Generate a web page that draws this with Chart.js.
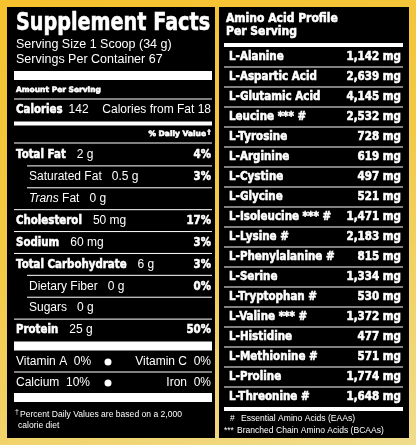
<!DOCTYPE html>
<html>
<head>
<meta charset="utf-8">
<script src="https://cdn.jsdelivr.net/npm/chart.js@4"></script>
<style>
  html, body { margin: 0; padding: 0; }
  body {
    width: 416px; height: 445px; overflow: hidden; position: relative;
    background: linear-gradient(160deg, #f6c12c 0%, #f3c845 45%, #f0dc8c 100%);
  }
  canvas { position: absolute; left: 0; top: 0; }
</style>
</head>
<body>
<div style="position:absolute;left:0;top:0;width:416px;height:445px"><canvas id="factsChart"></canvas></div>
<div style="position:absolute;left:0;top:0;width:416px;height:445px"><canvas id="aminoChart"></canvas></div>
<script>
// Nutrient rows (left panel)
const nutrients = ['Total Fat', 'Saturated Fat', 'Trans Fat', 'Cholesterol', 'Sodium',
                   'Total Carbohydrate', 'Dietary Fiber', 'Sugars', 'Protein'];
const amounts = ['2 g', '0.5 g', '0 g', '50 mg', '60 mg', '6 g', '0 g', '0 g', '25 g'];
const dailyValue = [4, 3, null, 17, 3, 3, 0, null, 50];
const indented = [false, true, true, false, false, false, true, true, false];

// Amino acid rows (right panel)
const aminoAcids = ['L-Alanine', 'L-Aspartic Acid', 'L-Glutamic Acid', 'Leucine *** #', 'L-Tyrosine',
  'L-Arginine', 'L-Cystine', 'L-Glycine', 'L-Isoleucine *** #', 'L-Lysine #', 'L-Phenylalanine #',
  'L-Serine', 'L-Tryptophan #', 'L-Valine *** #', 'L-Histidine', 'L-Methionine #', 'L-Proline', 'L-Threonine #'];
const aminoMg = [1142, 2639, 4145, 2532, 728, 619, 497, 521, 1471, 2183, 815, 1334, 530, 1372, 477, 571, 1774, 1648];

const BOLD = 'DejaVu Sans';
const REG = '"Liberation Sans", Arial, sans-serif';

// draws text, optionally squeezed horizontally by sx; bold text gets a thin stroke
function txt(ctx, s, x, y, font, align, sx) {
    sx = sx || 1;
    ctx.font = font;
    ctx.textAlign = align || 'left';
    ctx.textBaseline = 'middle';
    ctx.save();
    ctx.translate(x, y);
    ctx.scale(sx, 1);
    ctx.fillText(s, 0, 0);
    if (font.startsWith('bold')) {
        ctx.strokeStyle = '#fff';
        ctx.lineWidth = 0.6;
        ctx.strokeText(s, 0, 0);
    }
    ctx.restore();
    return ctx.measureText(s).width * sx;
}
function hline(ctx, x1, x2, y, w) {
    ctx.fillRect(x1, y - w / 2, x2 - x1, w);
}

const hiddenScales = {
    x: { display: false, min: 0 },
    y: { display: false }
};

const B = 'bold 12.5px ' + BOLD, BS = 0.82;
const R = '12px ' + REG;

const factsPlugin = {
    id: 'facts',
    beforeDraw(chart) {
        const ctx = chart.ctx;
        ctx.save();
        ctx.fillStyle = '#000';
        ctx.fillRect(7, 7, 208, 431);
        ctx.fillStyle = '#fff';
        txt(ctx, 'Supplement Facts', 16, 24, 'bold 24px ' + BOLD, 'left', 0.8);
        txt(ctx, 'Serving Size 1 Scoop (34 g)', 16, 45, '12.5px ' + REG);
        txt(ctx, 'Servings Per Container 67', 16, 60, '12.5px ' + REG);
        hline(ctx, 14, 212, 75.5, 9);
        txt(ctx, 'Amount Per Serving', 16, 90, 'bold 7.5px ' + BOLD);
        hline(ctx, 14, 212, 99, 1);
        let w = txt(ctx, 'Calories', 16, 110, B, 'left', BS);
        txt(ctx, '142', 16 + w + 6, 110, R);
        txt(ctx, 'Calories from Fat 18', 211, 110, R, 'right');
        hline(ctx, 14, 212, 123.5, 4);
        txt(ctx, '% Daily Value', 206, 134, 'bold 7.5px ' + BOLD, 'right');
        txt(ctx, '†', 209, 132, 'bold 6px ' + BOLD, 'center');
        hline(ctx, 14, 212, 143, 1);

        const y = chart.scales.y;
        const step = y.getPixelForValue(1) - y.getPixelForValue(0);
        nutrients.forEach((name, i) => {
            const cy = y.getPixelForValue(i);
            if (indented[i]) {
                let x = 29;
                if (name === 'Trans Fat') {
                    x += txt(ctx, 'Trans', x, cy, 'italic ' + R);
                    x += txt(ctx, ' Fat', x, cy, R);
                } else {
                    x += txt(ctx, name, x, cy, R);
                }
                txt(ctx, amounts[i], x + 10, cy, R);
            } else {
                const nw = txt(ctx, name, 16, cy, B, 'left', BS);
                txt(ctx, amounts[i], 16 + nw + 11, cy, R);
            }
            if (dailyValue[i] !== null) {
                txt(ctx, dailyValue[i] + '%', 211, cy, B, 'right', BS);
            }
            if (i < nutrients.length - 1) {
                hline(ctx, indented[i + 1] ? 27 : 14, 212, cy + step / 2, 1);
            }
        });

        hline(ctx, 14, 212, 346, 9);
        txt(ctx, 'Vitamin A  0%', 16, 362, R);
        txt(ctx, 'Vitamin C  0%', 211, 362, R, 'right');
        hline(ctx, 14, 212, 372, 1);
        txt(ctx, 'Calcium  10%', 16, 383, R);
        txt(ctx, 'Iron  0%', 211, 383, R, 'right');
        [362, 383].forEach(cy => { ctx.beginPath(); ctx.arc(108, cy, 3.5, 0, Math.PI * 2); ctx.fill(); });
        hline(ctx, 14, 212, 397.5, 9);
        txt(ctx, '†', 15, 412, '7px ' + REG);
        txt(ctx, 'Percent Daily Values are based on a 2,000', 20, 415, '9px ' + REG, 'left', 0.95);
        txt(ctx, 'calorie diet', 18, 426, '9px ' + REG, 'left', 0.95);
        ctx.restore();
    }
};

const aminoPlugin = {
    id: 'amino',
    beforeDraw(chart) {
        const ctx = chart.ctx;
        ctx.save();
        ctx.fillStyle = '#000';
        ctx.fillRect(219, 7, 190, 431);
        ctx.fillStyle = '#fff';
        txt(ctx, 'Amino Acid Profile', 226, 19, 'bold 12px ' + BOLD, 'left', 0.9);
        txt(ctx, 'Per Serving', 226, 32, 'bold 12px ' + BOLD, 'left', 0.9);
        hline(ctx, 224, 403, 45, 4);
        const y = chart.scales.y;
        const step = y.getPixelForValue(1) - y.getPixelForValue(0);
        aminoAcids.forEach((name, i) => {
            const cy = y.getPixelForValue(i);
            txt(ctx, name, 229, cy, 'bold 11.5px ' + BOLD, 'left', 0.9);
            txt(ctx, aminoMg[i].toLocaleString('en-US') + ' mg', 401, cy, 'bold 11.5px ' + BOLD, 'right', 0.9);
            if (i < aminoAcids.length - 1) hline(ctx, 224, 403, cy + step / 2, 1);
        });
        hline(ctx, 224, 403, 409, 4);
        txt(ctx, '#', 230, 419, '8.5px ' + REG);
        txt(ctx, 'Essential Amino Acids (EAAs)', 241, 419, '9px ' + REG, 'left', 0.95);
        txt(ctx, '***', 224, 431, '8.5px ' + REG);
        txt(ctx, 'Branched Chain Amino Acids (BCAAs)', 237, 431, '9px ' + REG, 'left', 0.95);
        ctx.restore();
    }
};

const baseOptions = {
    responsive: true,
    maintainAspectRatio: false,
    animation: false,
    indexAxis: 'y',
    plugins: { legend: { display: false }, tooltip: { enabled: false } },
    scales: hiddenScales
};

new Chart(document.getElementById('factsChart'), {
    type: 'bar',
    data: {
        labels: nutrients,
        datasets: [{ data: dailyValue, backgroundColor: 'rgba(0,0,0,0)' }]
    },
    options: { ...baseOptions, layout: { padding: { left: 16, right: 204, top: 144, bottom: 104 } } },
    plugins: [factsPlugin]
});

new Chart(document.getElementById('aminoChart'), {
    type: 'bar',
    data: {
        labels: aminoAcids,
        datasets: [{ data: aminoMg, backgroundColor: 'rgba(0,0,0,0)' }]
    },
    options: { ...baseOptions, layout: { padding: { left: 228, right: 14, top: 47, bottom: 38 } } },
    plugins: [aminoPlugin]
});
</script>
</body>
</html>
